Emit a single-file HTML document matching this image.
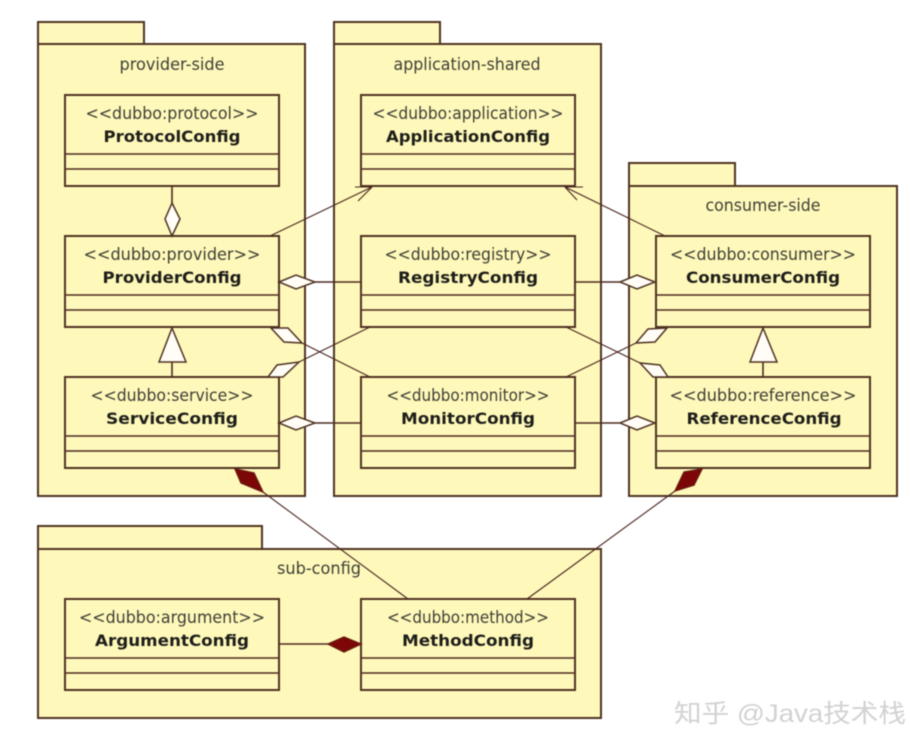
<!DOCTYPE html>
<html><head><meta charset="utf-8"><style>
html,body{margin:0;padding:0;background:#fff;width:910px;height:730px;overflow:hidden}
svg{display:block;filter:blur(0.45px)}
text{font-family:"DejaVu Sans","Liberation Sans","Noto Sans CJK SC",sans-serif;font-size:16.5px;fill:#3f3f36;text-anchor:middle}
.b{font-weight:bold;fill:#1e1e1a;font-size:16px}
.s,.p,.c{fill:#fef8ba;stroke:#4f3322;stroke-width:2}
.l{stroke:#4f2a20;stroke-width:1.6;fill:none}
.d{stroke:#4a2620;stroke-width:1.1;fill:none}
.a{fill:#fffdf5;stroke:#4f3322;stroke-width:1.5}
.f{fill:#7d0606;stroke:#6a1a10;stroke-width:1.4}
.w{font-family:"Liberation Sans","Noto Sans CJK SC",sans-serif;fill:#d2d2d2;font-size:25px;text-anchor:start}
</style></head><body>
<svg width="910" height="730" viewBox="0 0 910 730" xmlns="http://www.w3.org/2000/svg">
<!-- packages -->
<rect class="p" x="38" y="22" width="106" height="22"/><rect class="p" x="38" y="44" width="267" height="452"/>
<rect class="p" x="334" y="22" width="106" height="22"/><rect class="p" x="334" y="44" width="267" height="452"/>
<rect class="p" x="629" y="163" width="106" height="23"/><rect class="p" x="629" y="186" width="268" height="310"/>
<rect class="p" x="38" y="526" width="224" height="23"/><rect class="p" x="38" y="549" width="563" height="169"/>
<text x="172" y="70" textLength="105" lengthAdjust="spacingAndGlyphs">provider-side</text>
<text x="467" y="70" textLength="147" lengthAdjust="spacingAndGlyphs">application-shared</text>
<text x="763" y="211" textLength="115" lengthAdjust="spacingAndGlyphs">consumer-side</text>
<text x="319" y="574" textLength="84" lengthAdjust="spacingAndGlyphs">sub-config</text>
<!-- classes -->
<g>
<rect class="c" x="65" y="95" width="214" height="91"/><path class="l" d="M65 154H279M65 169H279"/>
<text x="172" y="119" textLength="173" lengthAdjust="spacingAndGlyphs">&lt;&lt;dubbo:protocol&gt;&gt;</text>
<text class="b" x="172" y="142" textLength="137" lengthAdjust="spacingAndGlyphs">ProtocolConfig</text>
<rect class="c" x="65" y="236" width="214" height="91"/><path class="l" d="M65 295H279M65 310H279"/>
<text x="172" y="260" textLength="177" lengthAdjust="spacingAndGlyphs">&lt;&lt;dubbo:provider&gt;&gt;</text>
<text class="b" x="172" y="283" textLength="139" lengthAdjust="spacingAndGlyphs">ProviderConfig</text>
<rect class="c" x="65" y="377" width="214" height="91"/><path class="l" d="M65 436H279M65 451H279"/>
<text x="172" y="401" textLength="163" lengthAdjust="spacingAndGlyphs">&lt;&lt;dubbo:service&gt;&gt;</text>
<text class="b" x="172" y="424" textLength="132" lengthAdjust="spacingAndGlyphs">ServiceConfig</text>
<rect class="c" x="361" y="95" width="214" height="91"/><path class="l" d="M361 154H575M361 169H575"/>
<text x="468" y="119" textLength="191" lengthAdjust="spacingAndGlyphs">&lt;&lt;dubbo:application&gt;&gt;</text>
<text class="b" x="468" y="142" textLength="164" lengthAdjust="spacingAndGlyphs">ApplicationConfig</text>
<rect class="c" x="361" y="236" width="214" height="91"/><path class="l" d="M361 295H575M361 310H575"/>
<text x="468" y="260" textLength="167" lengthAdjust="spacingAndGlyphs">&lt;&lt;dubbo:registry&gt;&gt;</text>
<text class="b" x="468" y="283" textLength="140" lengthAdjust="spacingAndGlyphs">RegistryConfig</text>
<rect class="c" x="361" y="377" width="214" height="91"/><path class="l" d="M361 436H575M361 451H575"/>
<text x="468" y="401" textLength="163" lengthAdjust="spacingAndGlyphs">&lt;&lt;dubbo:monitor&gt;&gt;</text>
<text class="b" x="468" y="424" textLength="134" lengthAdjust="spacingAndGlyphs">MonitorConfig</text>
<rect class="c" x="656" y="236" width="214" height="91"/><path class="l" d="M656 295H870M656 310H870"/>
<text x="763" y="260" textLength="186" lengthAdjust="spacingAndGlyphs">&lt;&lt;dubbo:consumer&gt;&gt;</text>
<text class="b" x="763" y="283" textLength="154" lengthAdjust="spacingAndGlyphs">ConsumerConfig</text>
<rect class="c" x="656" y="377" width="214" height="91"/><path class="l" d="M656 436H870M656 451H870"/>
<text x="763" y="401" textLength="187" lengthAdjust="spacingAndGlyphs">&lt;&lt;dubbo:reference&gt;&gt;</text>
<text class="b" x="764" y="424" textLength="155" lengthAdjust="spacingAndGlyphs">ReferenceConfig</text>
<rect class="c" x="65" y="599" width="214" height="91"/><path class="l" d="M65 658H279M65 673H279"/>
<text x="172" y="623" textLength="186" lengthAdjust="spacingAndGlyphs">&lt;&lt;dubbo:argument&gt;&gt;</text>
<text class="b" x="172" y="646" textLength="154" lengthAdjust="spacingAndGlyphs">ArgumentConfig</text>
<rect class="c" x="361" y="599" width="214" height="91"/><path class="l" d="M361 658H575M361 673H575"/>
<text x="468" y="623" textLength="162" lengthAdjust="spacingAndGlyphs">&lt;&lt;dubbo:method&gt;&gt;</text>
<text class="b" x="468" y="646" textLength="132" lengthAdjust="spacingAndGlyphs">MethodConfig</text>
</g>
<!-- connectors -->
<path class="l" d="M172 186V203"/>
<polygon class="a" points="172,203 180,219 172,236 165,219"/>
<path class="l" d="M315 282H361M315 423H361M574 282H620M574 423H620"/>
<polygon class="a" points="279,282 296,275 315,282 296,289"/>
<polygon class="a" points="279,423 296,416 315,423 296,430"/>
<polygon class="a" points="620,282 637,275 655,282 637,289"/>
<polygon class="a" points="620,423 637,416 655,423 637,430"/>
<!-- crossing aggregations -->
<path class="d" d="M302 343L370 377M299 362L370 327M636 343L566 377M640 363L566 327"/>
<polygon class="a" points="271,328 284,342 302,343 288,328"/>
<polygon class="a" points="268,377 277,365 299,362 283,377"/>
<polygon class="a" points="667,328 655,342 636,343 648,329"/>
<polygon class="a" points="668,377 660,365 640,363 653,377"/>
<!-- dependency arrows -->
<path class="d" d="M270 236L372 187M355 187L372 187L358 201M665 236L565 187M583 187L565 187L577 200"/>
<!-- generalization -->
<path class="l" d="M172 362V377M763 362V377"/>
<polygon class="a" points="172,328 186,362 159,362"/>
<polygon class="a" points="763,328 777,362 750,362"/>
<!-- compositions -->
<path class="d" d="M263 492L408 599M675 491L527 599"/>
<path class="l" d="M279 644H328"/>
<polygon class="f" points="235,469 241,483 263,492 254,473"/>
<polygon class="f" points="702,469 694,485 675,491 684,472"/>
<polygon class="f" points="328,644 344,637 361,644 344,652"/>
<!-- watermark -->
<text class="w" x="674" y="722" textLength="232" lengthAdjust="spacingAndGlyphs">知乎 @Java技术栈</text>
</svg>
</body></html>
